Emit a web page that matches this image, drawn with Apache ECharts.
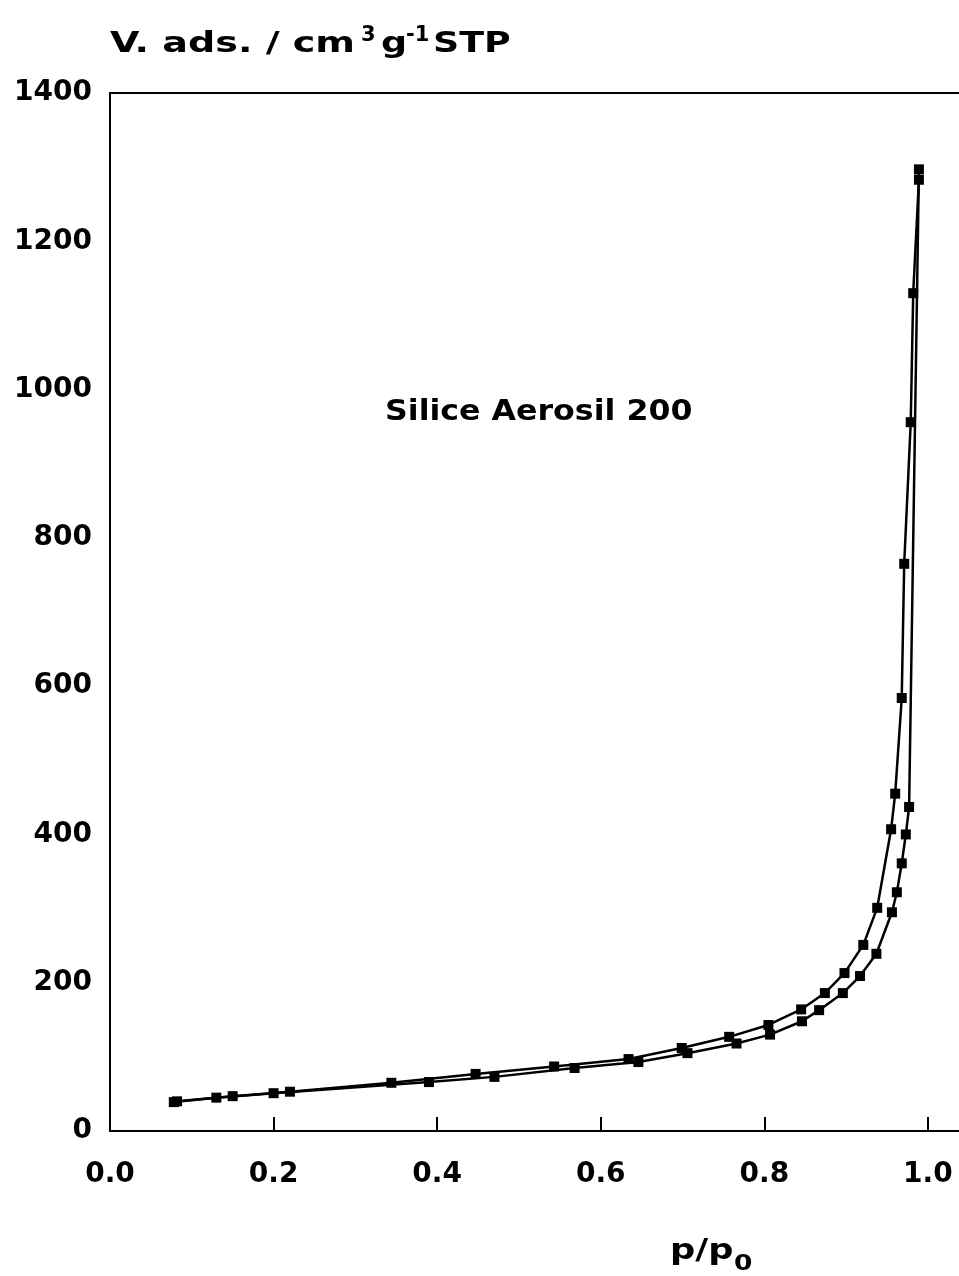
<!DOCTYPE html>
<html>
<head>
<meta charset="utf-8">
<script src="https://cdn.jsdelivr.net/npm/echarts@6/dist/echarts.min.js"></script>
<style>
    html, body {margin: 0; padding: 0; background: #fff;}
    #box1 {width: 959px; height: 1276px;}
</style>
</head>
<body>
<div id="box1"></div>
<script>
// adsorption branch (lower / right curve)
var adsX = [0.078, 0.13, 0.20, 0.39, 0.47, 0.568, 0.646, 0.706, 0.766, 0.807, 0.846, 0.867, 0.896, 0.917, 0.937, 0.956, 0.962, 0.968, 0.973, 0.977, 0.989];
var adsV = [39, 45, 51, 66, 73, 85, 93, 105, 118, 130, 148, 163, 186, 209, 239, 295, 322, 361, 400, 437, 1297];
// desorption branch (upper / left curve)
var desX = [0.989, 0.982, 0.979, 0.971, 0.968, 0.960, 0.955, 0.938, 0.921, 0.898, 0.874, 0.845, 0.805, 0.757, 0.699, 0.634, 0.543, 0.447, 0.344, 0.22, 0.15, 0.082];
var desV = [1283, 1130, 956, 765, 584, 455, 407, 301, 251, 213, 186, 164, 143, 127, 112, 97, 87, 77, 65, 53, 47, 40];

var xTicks = [0, 0.2, 0.4, 0.6, 0.8, 1.0];

function pairs(xs, ys){
    var out = [];
    for (var i = 0; i < xs.length; i++) {
        out.push([xs[i], ys[i]]);
    }
    return out;
}

var myChart = echarts.init(document.getElementById('box1'));
var font = 'DejaVu Sans';

var option = {
    animation: false,
    backgroundColor: '#fff',
    grid: {left: 110, top: 93, right: 0, bottom: 145},
    xAxis: [{
        type: 'value',
        min: 0,
        max: 1.038,
        axisLine: {lineStyle: {color: '#000', width: 2}},
        axisTick: {inside: true, length: 14, lineStyle: {color: '#000', width: 2}, customValues: xTicks},
        axisLabel: {
            customValues: xTicks,
            margin: 30,
            color: '#000',
            fontFamily: font,
            fontWeight: 'bold',
            fontSize: 28,
            formatter: function(v){ return v.toFixed(1); }
        },
        splitLine: {show: false}
    }, {
        // top frame line only
        type: 'value',
        position: 'top',
        min: 0,
        max: 1.038,
        axisLine: {show: true, lineStyle: {color: '#000', width: 2}},
        axisTick: {show: false},
        axisLabel: {show: false},
        splitLine: {show: false}
    }],
    yAxis: {
        type: 'value',
        min: 0,
        max: 1400,
        interval: 200,
        axisLine: {show: true, lineStyle: {color: '#000', width: 2}},
        axisTick: {show: false},
        axisLabel: {
            margin: 18,
            color: '#000',
            fontFamily: font,
            fontWeight: 'bold',
            fontSize: 28,
            formatter: function(v){ return String(v); }
        },
        splitLine: {show: false}
    },
    series: [{
        name: 'adsorption',
        type: 'line',
        data: pairs(adsX, adsV),
        symbol: 'rect',
        symbolSize: 10,
        lineStyle: {color: '#000', width: 2.5},
        itemStyle: {color: '#000'}
    }, {
        name: 'desorption',
        type: 'line',
        data: pairs(desX, desV),
        symbol: 'rect',
        symbolSize: 10,
        lineStyle: {color: '#000', width: 2.5},
        itemStyle: {color: '#000'}
    }],
    graphic: [
        {type: 'text', x: 110, y: 45, scaleX: 1.36, style: {text: 'V. ads. / cm', font: 'bold 28px ' + font, fill: '#000', textVerticalAlign: 'middle'}},
        {type: 'text', x: 361, y: 36, style: {text: '3', font: 'bold 21px ' + font, fill: '#000', textVerticalAlign: 'middle'}},
        {type: 'text', x: 381, y: 45, scaleX: 1.3, style: {text: 'g', font: 'bold 28px ' + font, fill: '#000', textVerticalAlign: 'middle'}},
        {type: 'text', x: 406, y: 36, style: {text: '-1', font: 'bold 21px ' + font, fill: '#000', textVerticalAlign: 'middle'}},
        {type: 'text', x: 433, y: 45, scaleX: 1.3, style: {text: 'STP', font: 'bold 28px ' + font, fill: '#000', textVerticalAlign: 'middle'}},
        {type: 'text', x: 385, y: 413, scaleX: 1.13, style: {text: 'Silice Aerosil 200', font: 'bold 28px ' + font, fill: '#000', textVerticalAlign: 'middle'}},
        {type: 'text', x: 670, y: 1252, scaleX: 1.26, style: {text: 'p/p', font: 'bold 28px ' + font, fill: '#000', textVerticalAlign: 'middle'}},
        {type: 'text', x: 734, y: 1264, scaleX: 1.2, style: {text: '0', font: 'bold 22px ' + font, fill: '#000', textVerticalAlign: 'middle'}}
    ]
};

myChart.setOption(option);
</script>
</body>
</html>
